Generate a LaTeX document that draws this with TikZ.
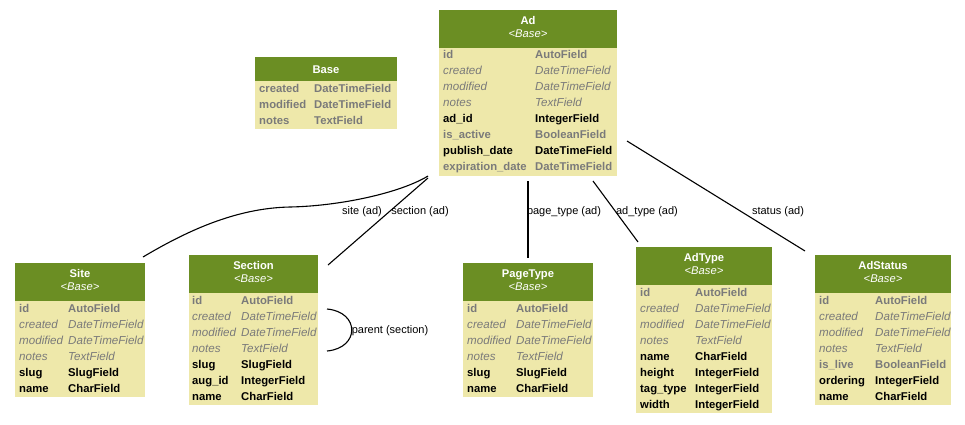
\documentclass[tikz,border=0pt]{standalone}
\usepackage{fontspec}
\setmainfont{Liberation Sans}
\definecolor{hdgreen}{RGB}{107,142,35}
\definecolor{bdyellow}{RGB}{238,232,170}
\definecolor{fgray}{RGB}{122,122,122}
\newcommand\erow[7]{\node[#1] (#2n) at (#3,#5+4) {#6}; \node[#1] (#2t) at (#4,#5+4) {#7};}
\begin{document}
\begin{tikzpicture}[x=1pt,y=-1pt,
 hd/.style={fill=hdgreen,draw=none,inner sep=0,outer sep=0,anchor=north west},
 bd/.style={fill=bdyellow,draw=none,inner sep=0,outer sep=0,anchor=north west},
 ttl/.style={anchor=base,inner sep=0,text=white,font=\fontsize{11.2}{13}\selectfont\bfseries},
 subt/.style={anchor=base,inner sep=0,text=white,font=\fontsize{11.2}{13}\selectfont\itshape},
 fb/.style={anchor=base west,inner sep=0,text=black,font=\fontsize{11.3}{13}\selectfont\bfseries},
 fg/.style={anchor=base west,inner sep=0,text=fgray,font=\fontsize{11.3}{13}\selectfont\bfseries},
 fi/.style={anchor=base west,inner sep=0,text=fgray,font=\fontsize{11.6}{13}\selectfont\itshape},
 edge/.style={line width=1.1pt,black},
 elab/.style={anchor=center,inner sep=0,font=\fontsize{11}{13}\selectfont}]
\useasboundingbox[fill=white] (0,0) rectangle (965,424);

% ---------- Ad ----------
\node[hd,minimum width=178pt,minimum height=38pt] (adH) at (439,10) {};
\node[bd,minimum width=178pt,minimum height=128pt] (adB) at (439,48) {};
\node[ttl] (adTi) at (528,24) {Ad};
\node[subt] (adSu) at (528,37.5) {<Base>};
\erow{fg}{ad1}{443}{535}{54}{id}{AutoField}
\erow{fi}{ad2}{443}{535}{70}{created}{DateTimeField}
\erow{fi}{ad3}{443}{535}{86}{modified}{DateTimeField}
\erow{fi}{ad4}{443}{535}{102}{notes}{TextField}
\erow{fb}{ad5}{443}{535}{118}{ad\_id}{IntegerField}
\erow{fg}{ad6}{443}{535}{134}{is\_active}{BooleanField}
\erow{fb}{ad7}{443}{535}{150}{publish\_date}{DateTimeField}
\erow{fg}{ad8}{443}{535}{166}{expiration\_date}{DateTimeField}

% ---------- Base ----------
\node[hd,minimum width=142pt,minimum height=24pt] (baH) at (255,57) {};
\node[bd,minimum width=142pt,minimum height=48pt] (baB) at (255,81) {};
\node[ttl] (baTi) at (326,73) {Base};
\erow{fg}{ba1}{259}{314}{88}{created}{DateTimeField}
\erow{fg}{ba2}{259}{314}{104}{modified}{DateTimeField}
\erow{fg}{ba3}{259}{314}{120}{notes}{TextField}

% ---------- Site ----------
\node[hd,minimum width=130pt,minimum height=38pt] (siH) at (15,263) {};
\node[bd,minimum width=130pt,minimum height=96pt] (siB) at (15,301) {};
\node[ttl] (siTi) at (80,277) {Site};
\node[subt] (siSu) at (80,290.5) {<Base>};
\erow{fg}{si1}{19}{68}{308}{id}{AutoField}
\erow{fi}{si2}{19}{68}{324}{created}{DateTimeField}
\erow{fi}{si3}{19}{68}{340}{modified}{DateTimeField}
\erow{fi}{si4}{19}{68}{356}{notes}{TextField}
\erow{fb}{si5}{19}{68}{372}{slug}{SlugField}
\erow{fb}{si6}{19}{68}{388}{name}{CharField}

% ---------- Section ----------
\node[hd,minimum width=129pt,minimum height=38pt] (seH) at (189,255) {};
\node[bd,minimum width=129pt,minimum height=112pt] (seB) at (189,293) {};
\node[ttl] (seTi) at (253.5,269) {Section};
\node[subt] (seSu) at (253.5,282.5) {<Base>};
\erow{fg}{se1}{192}{241}{300}{id}{AutoField}
\erow{fi}{se2}{192}{241}{316}{created}{DateTimeField}
\erow{fi}{se3}{192}{241}{332}{modified}{DateTimeField}
\erow{fi}{se4}{192}{241}{348}{notes}{TextField}
\erow{fb}{se5}{192}{241}{364}{slug}{SlugField}
\erow{fb}{se6}{192}{241}{380}{aug\_id}{IntegerField}
\erow{fb}{se7}{192}{241}{396}{name}{CharField}

% ---------- PageType ----------
\node[hd,minimum width=130pt,minimum height=38pt] (ptH) at (463,263) {};
\node[bd,minimum width=130pt,minimum height=96pt] (ptB) at (463,301) {};
\node[ttl] (ptTi) at (528,277) {PageType};
\node[subt] (ptSu) at (528,290.5) {<Base>};
\erow{fg}{pt1}{467}{516}{308}{id}{AutoField}
\erow{fi}{pt2}{467}{516}{324}{created}{DateTimeField}
\erow{fi}{pt3}{467}{516}{340}{modified}{DateTimeField}
\erow{fi}{pt4}{467}{516}{356}{notes}{TextField}
\erow{fb}{pt5}{467}{516}{372}{slug}{SlugField}
\erow{fb}{pt6}{467}{516}{388}{name}{CharField}

% ---------- AdType ----------
\node[hd,minimum width=136pt,minimum height=38pt] (atH) at (636,247) {};
\node[bd,minimum width=136pt,minimum height=128pt] (atB) at (636,285) {};
\node[ttl] (atTi) at (704,261) {AdType};
\node[subt] (atSu) at (704,274.5) {<Base>};
\erow{fg}{at1}{640}{695}{292}{id}{AutoField}
\erow{fi}{at2}{640}{695}{308}{created}{DateTimeField}
\erow{fi}{at3}{640}{695}{324}{modified}{DateTimeField}
\erow{fi}{at4}{640}{695}{340}{notes}{TextField}
\erow{fb}{at5}{640}{695}{356}{name}{CharField}
\erow{fb}{at6}{640}{695}{372}{height}{IntegerField}
\erow{fb}{at7}{640}{695}{388}{tag\_type}{IntegerField}
\erow{fb}{at8}{640}{695}{404}{width}{IntegerField}

% ---------- AdStatus ----------
\node[hd,minimum width=136pt,minimum height=38pt] (asH) at (815,255) {};
\node[bd,minimum width=136pt,minimum height=112pt] (asB) at (815,293) {};
\node[ttl] (asTi) at (883,269) {AdStatus};
\node[subt] (asSu) at (883,282.5) {<Base>};
\erow{fg}{as1}{819}{875}{300}{id}{AutoField}
\erow{fi}{as2}{819}{875}{316}{created}{DateTimeField}
\erow{fi}{as3}{819}{875}{332}{modified}{DateTimeField}
\erow{fi}{as4}{819}{875}{348}{notes}{TextField}
\erow{fg}{as5}{819}{875}{364}{is\_live}{BooleanField}
\erow{fb}{as6}{819}{875}{380}{ordering}{IntegerField}
\erow{fb}{as7}{819}{875}{396}{name}{CharField}

% ---------- connector end points ----------
\coordinate (cSiA) at (428,176);
\coordinate (cSiB) at (143,257);
\coordinate (cSeA) at (428,178);
\coordinate (cSeB) at (328,265);
\coordinate (cPtA) at (528,181);
\coordinate (cPtB) at (528,258);
\coordinate (cAtA) at (593,181);
\coordinate (cAtB) at (638,242);
\coordinate (cAsA) at (627,141);
\coordinate (cAsB) at (805,251);
\coordinate (cLpA) at (327,309);
\coordinate (cLpB) at (327,351);

% ---------- connectors ----------
\draw[edge] (cSiA) .. controls (400,193) and (340,206) .. (290,207)
            .. controls (235,208) and (185,232) .. (cSiB);
\draw[edge] (cSeA) -- (cSeB);
\draw[edge] (cPtA) -- (cPtB);
\draw[edge] (cAtA) -- (cAtB);
\draw[edge] (cAsA) -- (cAsB);
\draw[edge] (cLpA) .. controls (360,312) and (360,348) .. (cLpB);

% ---------- labels ----------
\node[elab] (lSi) at (362,212) {site (ad)};
\node[elab] (lSe) at (420,212) {section (ad)};
\node[elab] (lPt) at (564,212) {page\_type (ad)};
\node[elab] (lAt) at (647,212) {ad\_type (ad)};
\node[elab] (lAs) at (778,212) {status (ad)};
\node[elab] (lLp) at (390,330.5) {parent (section)};
\end{tikzpicture}
\end{document}
